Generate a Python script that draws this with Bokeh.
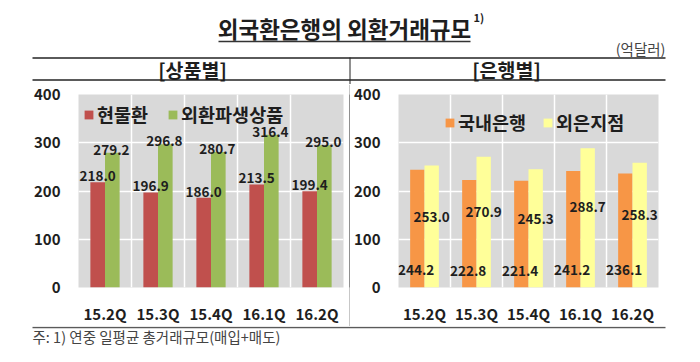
from bokeh.plotting import figure
from bokeh.models import Range1d, FactorRange, ColumnDataSource, FixedTicker, Legend
from bokeh.layouts import column, row
from bokeh.transform import dodge
from bokeh.core.properties import value
from bokeh.embed import file_html
from bokeh.resources import INLINE

# ---------------- data ----------------
quarters = ["15.2Q", "15.3Q", "15.4Q", "16.1Q", "16.2Q"]
spot = [218.0, 196.9, 186.0, 213.5, 199.4]          # 현물환
deriv = [279.2, 296.8, 280.7, 316.4, 295.0]         # 외환파생상품
domestic = [244.2, 222.8, 221.4, 241.2, 236.1]      # 국내은행
foreign = [253.0, 270.9, 245.3, 288.7, 258.3]       # 외은지점
y_ticks = [0, 100, 200, 300, 400]

title_text = "외국환은행의 외환거래규모"
unit_text = "(억달러)"
left_head = "[상품별]"
right_head = "[은행별]"
note_text = "주: 1) 연중 일평균 총거래규모(매입+매도)"

FNAME = "Noto Sans CJK KR"
FONT = value(FNAME)
TXT = "#1e1e1e"
RULE = "#5a5a5a"
GRAY = "#D9D9D9"

# ---------------- header ----------------
hd = figure(width=700, height=84, x_range=Range1d(0, 700), y_range=Range1d(84, 0),
            x_axis_type=None, y_axis_type=None, toolbar_location=None,
            output_backend="svg", min_border=0, outline_line_color=None)
hd.grid.visible = False
hd.text(x=[344], y=[27], text=[title_text], text_font=FONT, text_font_style="bold",
        text_font_size="22.5px", text_align="center", text_baseline="middle", text_color=TXT)
hd.text(x=[473], y=[16], text=["1)"], text_font=FONT, text_font_style="bold",
        text_font_size="11px", text_align="left", text_baseline="middle", text_color=TXT)
hd.segment(x0=[218], y0=[41], x1=[470], y1=[41], line_color="#333333", line_width=1.5)
hd.text(x=[665], y=[48], text=[unit_text], text_font=FONT, text_font_size="14.5px",
        text_align="right", text_baseline="middle", text_color="#444444")
hd.segment(x0=[32, 32], y0=[57.5, 79.5], x1=[665, 665], y1=[57.5, 79.5],
           line_color=RULE, line_width=2)
hd.text(x=[192, 506], y=[69, 69], text=[left_head, right_head], text_font=FONT,
        text_font_style="bold", text_font_size="19.5px", text_align="center",
        text_baseline="middle", text_color=TXT)
hd.segment(x0=[349.5], y0=[57], x1=[349.5], y1=[84], line_color="#222222", line_width=1)


def make_chart(width, left, right, s1, s2, n1, n2, c1, c2, legend_loc, legend_spacing):
    p = figure(width=width, height=242, x_range=FactorRange(*quarters, range_padding=0),
               y_range=Range1d(0, 400), toolbar_location=None, output_backend="svg",
               min_border_left=left, min_border_right=right, min_border_top=10,
               min_border_bottom=35, outline_line_color=None,
               background_fill_color=GRAY, border_fill_color="white")
    src = ColumnDataSource(dict(q=quarters, a=s1, b=s2,
                                la=[f"{v:.1f}" for v in s1],
                                lb=[f"{v:.1f}" for v in s2]))
    # grid
    p.xgrid.visible = False
    p.ygrid.ticker = FixedTicker(ticks=y_ticks)
    p.ygrid.grid_line_color = "white"
    p.ygrid.grid_line_width = 1.5
    bsrc = ColumnDataSource(dict(q=quarters[1:], y0=[0] * 4, y1=[400] * 4))
    p.segment(x0=dodge("q", -0.5, range=p.x_range), y0="y0",
              x1=dodge("q", -0.5, range=p.x_range), y1="y1", source=bsrc,
              line_color="white", line_width=1.5, level="underlay")
    r1 = p.vbar(x=dodge("q", -0.138, range=p.x_range), top="a", width=0.276,
                source=src, fill_color=c1, line_color=None)
    r2 = p.vbar(x=dodge("q", 0.138, range=p.x_range), top="b", width=0.276,
                source=src, fill_color=c2, line_color=None)
    leg = Legend(items=[(n1, [r1]), (n2, [r2])], orientation="horizontal",
                 location=legend_loc, spacing=legend_spacing, padding=0, margin=0,
                 border_line_color=None, background_fill_alpha=0,
                 glyph_width=11, glyph_height=11, label_standoff=3, label_height=18,
                 label_text_font=FNAME, label_text_font_style="bold",
                 label_text_font_size="18.5px", label_text_color=TXT)
    p.add_layout(leg)
    # axes
    p.yaxis.ticker = FixedTicker(ticks=y_ticks)
    for ax in (p.xaxis[0], p.yaxis[0]):
        ax.axis_line_color = None
        ax.major_tick_line_color = None
        ax.minor_tick_line_color = None
        ax.major_tick_out = 0
        ax.major_tick_in = 0
        ax.major_label_text_font = FNAME
        ax.major_label_text_font_style = "bold"
        ax.major_label_text_font_size = "15px"
        ax.major_label_text_color = TXT
    p.yaxis.major_label_standoff = 18
    p.xaxis.major_label_standoff = 15
    return p, src


LBL = "13.5px"
c1, s1 = make_chart(349, 78, 6, spot, deriv, "현물환", "외환파생상품",
                    "#C0504D", "#9BBB59", (5, 160), 19)
c1.text(x=dodge("q", -0.138, range=c1.x_range), y="a", text="la", source=s1,
        text_font=FONT, text_font_style="bold", text_font_size=LBL,
        text_align="center", text_baseline="bottom", text_color=TXT, y_offset=-1)
c1.text(x=dodge("q", 0.12, range=c1.x_range), y="b", text="lb", source=s1,
        text_font=FONT, text_font_style="bold", text_font_size=LBL,
        text_align="center", text_baseline="middle", text_color=TXT, y_offset=-3)

c2, s2 = make_chart(350, 46, 42, domestic, foreign, "국내은행", "외은지점",
                    "#F79646", "#FFFF99", (46, 152), 16)
s2.data["ya"] = [v * 0.15 for v in domestic]
s2.data["yb"] = [v * 0.58 for v in foreign]
c2.text(x=dodge("q", -0.16, range=c2.x_range), y="ya", text="la", source=s2,
        text_font=FONT, text_font_style="bold", text_font_size=LBL,
        text_align="center", text_baseline="middle", text_color=TXT)
c2.text(x=dodge("q", 0.138, range=c2.x_range), y="yb", text="lb", source=s2,
        text_font=FONT, text_font_style="bold", text_font_size=LBL,
        text_align="center", text_baseline="middle", text_color=TXT)

# divider
dv = figure(width=1, height=242, x_axis_type=None, y_axis_type=None,
            toolbar_location=None, output_backend="svg", min_border=0,
            outline_line_color=None, background_fill_color="#222222",
            border_fill_color="#222222")
dv.grid.visible = False

# ---------------- footer ----------------
ft = figure(width=700, height=36, x_range=Range1d(0, 700), y_range=Range1d(362, 326),
            x_axis_type=None, y_axis_type=None, toolbar_location=None,
            output_backend="svg", min_border=0, outline_line_color=None)
ft.grid.visible = False
ft.segment(x0=[32], y0=[327], x1=[665], y1=[327], line_color=RULE, line_width=1.5)
ft.text(x=[32], y=[336], text=[note_text], text_font=FONT, text_font_size="14.5px",
        text_align="left", text_baseline="middle", text_color="#444444")

page = column(hd, row(c1, dv, c2), ft)
open("out.html", "w").write(file_html(page, INLINE))
